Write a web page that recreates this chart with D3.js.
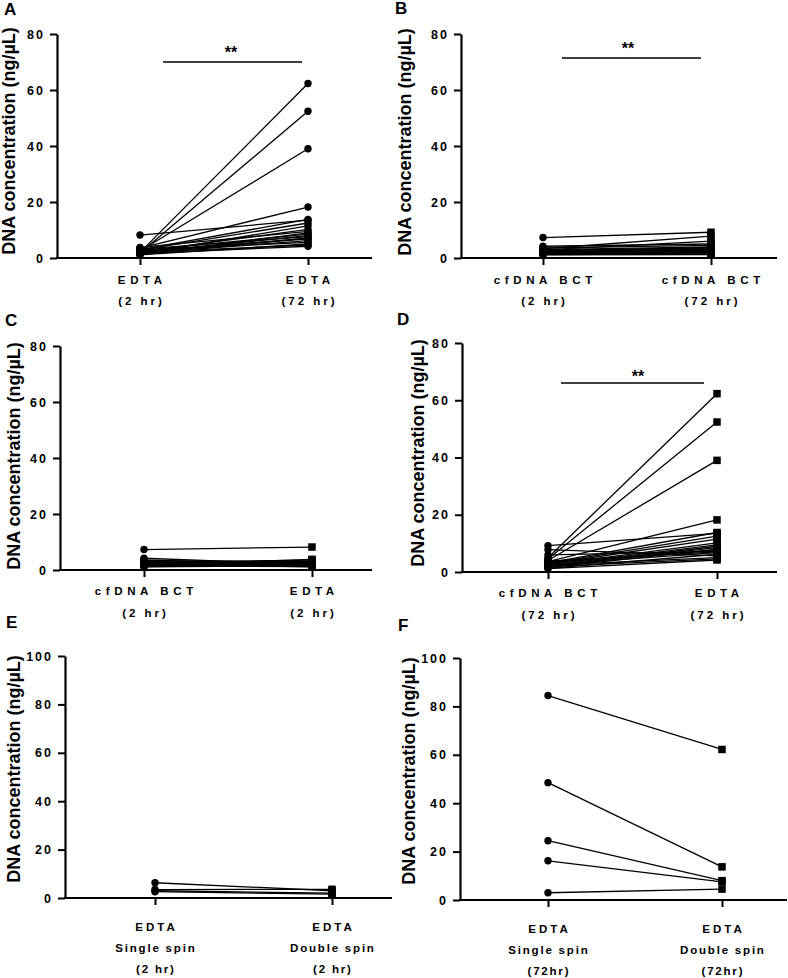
<!DOCTYPE html>
<html>
<head>
<meta charset="utf-8">
<script src="https://cdn.jsdelivr.net/npm/d3@7"></script>
<style>
  html, body { margin: 0; padding: 0; background: #fff; }
  svg { display: block; }
  text { font-family: "Liberation Sans", Arial, sans-serif; font-weight: bold; fill: #000; }
</style>
</head>
<body>
<svg id="chart" width="788" height="978"></svg>
<script>
// ---------------- DATA ----------------
const yTicks80 = [0, 20, 40, 60, 80];
const yTicks100 = [0, 20, 40, 60, 80, 100];
const yLabel = "DNA concentration (ng/\u00B5L)";

// per-subject values (ng/µL)
const edta2hr  = [8.2, 2.0, 1.8, 2.5, 3.5, 3.0, 2.8, 1.5, 2.2, 3.8, 1.2, 2.6, 1.9, 3.2, 1.4, 2.3, 1.7, 2.9, 1.1, 2.1, 1.6, 2.4];
const edta72hr = [13.5, 62.3, 52.4, 39.0, 18.2, 13.8, 12.5, 11.5, 10.2, 9.5, 9.0, 8.5, 8.0, 7.6, 7.2, 6.8, 6.2, 5.6, 5.0, 4.6, 4.2, 7.0];
const bct2hr   = [7.3, 4.2, 3.6, 3.0, 2.7, 2.4, 2.2, 2.0, 1.8, 1.6, 1.5, 1.3, 1.2, 2.5, 2.9, 1.9, 1.4, 3.3, 2.1, 1.7, 1.1, 2.3];
const bct72hr  = [9.2, 5.0, 4.5, 4.0, 3.6, 3.2, 3.0, 2.8, 2.5, 2.2, 2.0, 1.8, 1.5, 3.4, 6.0, 2.6, 1.3, 7.8, 2.4, 1.9, 1.2, 3.8];
const singleSpin2hr  = [6.3, 3.5, 3.0, 2.6];
const doubleSpin2hr  = [3.0, 3.6, 2.0, 1.6];
const singleSpin72hr = [84.5, 48.5, 24.5, 16.2, 3.0];
const doubleSpin72hr = [62.2, 13.7, 8.0, 7.5, 4.5];

// category tick labels (multi-line)
const catsA = [["EDTA", "(2 hr)"], ["EDTA", "(72 hr)"]];
const catsB = [["cfDNA BCT", "(2 hr)"], ["cfDNA BCT", "(72 hr)"]];
const catsC = [["cfDNA BCT", "(2 hr)"], ["EDTA", "(2 hr)"]];
const catsD = [["cfDNA BCT", "(72 hr)"], ["EDTA", "(72 hr)"]];
const catsE = [["EDTA", "Single spin", "(2 hr)"], ["EDTA", "Double spin", "(2 hr)"]];
const catsF = [["EDTA", "Single spin", "(72hr)"], ["EDTA", "Double spin", "(72hr)"]];
const sigLabel = "**";

// ---------------- LAYOUT ----------------
const panels = [
  { letter: "A", lx: 4, ly: 15, axisX: 57, y0: 258, yTop: 34, xEnd: 372, catX: [140, 308],
    ticks: yTicks80, left: edta2hr, right: edta72hr, lShape: "circle", rShape: "circle",
    cats: catsA, labY: [284, 305], sp: [4.6, 3.0], ylX: 15, ylY: 141,
    sig: { x1: 163, x2: 302, y: 62, tx: 231, ty: 58 } },
  { letter: "B", lx: 395, ly: 14, axisX: 461, y0: 258, yTop: 34, xEnd: 777, catX: [543, 711],
    ticks: yTicks80, left: bct2hr, right: bct72hr, lShape: "circle", rShape: "square",
    cats: catsB, labY: [284, 305], sp: [4.6, 3.0], ylX: 411, ylY: 142,
    sig: { x1: 562, x2: 701, y: 58, tx: 628, ty: 54 } },
  { letter: "C", lx: 5, ly: 326, axisX: 60, y0: 570, yTop: 346, xEnd: 372, catX: [144, 312],
    ticks: yTicks80, left: bct2hr, right: edta2hr, lShape: "circle", rShape: "square",
    cats: catsC, labY: [595, 617], sp: [4.6, 3.0], ylX: 20, ylY: 456, sig: null },
  { letter: "D", lx: 397, ly: 325, axisX: 462, y0: 572, yTop: 343, xEnd: 777, catX: [548, 717],
    ticks: yTicks80, left: bct72hr, right: edta72hr, lShape: "circle", rShape: "square",
    cats: catsD, labY: [597, 619], sp: [4.6, 3.0], ylX: 424, ylY: 453,
    sig: { x1: 561, x2: 704, y: 383, tx: 638, ty: 382 } },
  { letter: "E", lx: 6, ly: 628, axisX: 65, y0: 898, yTop: 656, xEnd: 392, catX: [155, 332],
    ticks: yTicks100, left: singleSpin2hr, right: doubleSpin2hr, lShape: "circle", rShape: "square",
    cats: catsE, labY: [931, 952, 973], sp: [3.0, 1.8, 1.8], ylX: 20, ylY: 769, sig: null },
  { letter: "F", lx: 398, ly: 631, axisX: 460, y0: 900, yTop: 658, xEnd: 787, catX: [548, 722],
    ticks: yTicks100, left: singleSpin72hr, right: doubleSpin72hr, lShape: "circle", rShape: "square",
    cats: catsF, labY: [933, 954, 975], sp: [3.0, 1.8, 1.8], ylX: 415, ylY: 771, sig: null }
];

const svg = d3.select("#chart");

panels.forEach(p => {
  const g = svg.append("g");
  const maxV = p.ticks[p.ticks.length - 1];
  const y = d3.scaleLinear().domain([0, maxV]).range([p.y0, p.yTop]);
  const catKeys = p.cats.map(c => c.join(" "));
  const x = d3.scalePoint().domain(catKeys).range(p.catX).padding(0);

  // panel letter
  g.append("text").attr("x", p.lx).attr("y", p.ly)
    .style("font-size", "17px").text(p.letter);

  // y-axis label
  g.append("text")
    .attr("transform", `translate(${p.ylX},${p.ylY}) rotate(-90)`)
    .attr("text-anchor", "middle")
    .style("font-size", "18px")
    .text(yLabel);

  // y axis
  const ya = g.append("g").attr("transform", `translate(${p.axisX},0)`)
    .call(d3.axisLeft(y).tickValues(p.ticks).tickSize(7).tickSizeOuter(0).tickPadding(5));
  ya.select(".domain").attr("stroke", "#000").attr("stroke-width", 2.2);
  ya.selectAll(".tick line").attr("stroke", "#000").attr("stroke-width", 2);
  ya.selectAll(".tick text")
    .style("font-size", "12.5px").style("letter-spacing", "2px")
    .style("font-family", "'Liberation Sans', Arial, sans-serif").style("font-weight", "bold")
    .attr("fill", "#000");

  // x axis line
  g.append("line").attr("x1", p.axisX - 1).attr("x2", p.xEnd)
    .attr("y1", p.y0).attr("y2", p.y0)
    .attr("stroke", "#000").attr("stroke-width", 2.2);
  const xa = g.append("g").attr("transform", `translate(0,${p.y0})`)
    .call(d3.axisBottom(x).tickSize(7).tickFormat(""));
  xa.select(".domain").remove();
  xa.selectAll(".tick line").attr("stroke", "#000").attr("stroke-width", 2);

  // category labels
  p.cats.forEach((lines, ci) => {
    const t = g.append("text").attr("text-anchor", "middle").style("font-size", "11.5px");
    lines.forEach((ln, li) => {
      t.append("tspan")
        .attr("x", x(catKeys[ci]) + p.sp[li] / 2)
        .attr("y", p.labY[li])
        .style("letter-spacing", p.sp[li] + "px")
        .text(ln);
    });
  });

  // paired lines
  const pairs = p.left.map((v, i) => ({ a: v, b: p.right[i] }));
  const xl = x(catKeys[0]), xr = x(catKeys[1]);
  g.append("g").selectAll("line").data(pairs).join("line")
    .attr("x1", xl).attr("x2", xr)
    .attr("y1", d => y(d.a)).attr("y2", d => y(d.b))
    .attr("stroke", "#000").attr("stroke-width", 1.3);

  // markers
  function drawMarkers(vals, cx, shape) {
    const mg = g.append("g");
    if (shape === "circle") {
      mg.selectAll("circle").data(vals).join("circle")
        .attr("cx", cx).attr("cy", d => y(d)).attr("r", 3.7).attr("fill", "#000");
    } else {
      const s = 7.5;
      mg.selectAll("rect").data(vals).join("rect")
        .attr("x", cx - s / 2).attr("y", d => y(d) - s / 2)
        .attr("width", s).attr("height", s).attr("fill", "#000");
    }
  }
  drawMarkers(p.left, xl, p.lShape);
  drawMarkers(p.right, xr, p.rShape);

  // significance bar
  if (p.sig) {
    g.append("line").attr("x1", p.sig.x1).attr("x2", p.sig.x2)
      .attr("y1", p.sig.y).attr("y2", p.sig.y)
      .attr("stroke", "#000").attr("stroke-width", 1.3);
    g.append("text").attr("x", p.sig.tx).attr("y", p.sig.ty)
      .attr("text-anchor", "middle").style("font-size", "16px").text(sigLabel);
  }
});
</script>
</body>
</html>
